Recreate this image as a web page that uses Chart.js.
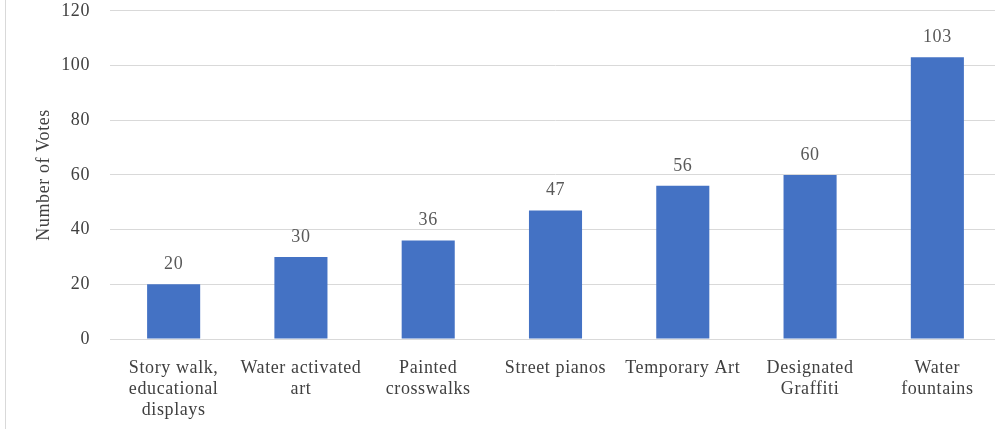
<!DOCTYPE html>
<html>
<head>
<meta charset="utf-8">
<script src="https://cdn.jsdelivr.net/npm/chart.js@4"></script>
<style>
  html, body { margin: 0; padding: 0; background: #fff; overflow: hidden; }
  #wrap { position: absolute; left: 0; top: -20px; width: 1001px; height: 449px; }
  #edge { position: absolute; left: 5px; top: 0; width: 1px; height: 429px; background: #d9d9d9; }
</style>
</head>
<body>
<div id="wrap">
  <canvas id="c"></canvas>
</div>
<div id="edge"></div>
<script>
const categories = [
  ["Story walk,", "educational", "displays"],
  ["Water activated", "art"],
  ["Painted", "crosswalks"],
  ["Street pianos"],
  ["Temporary Art"],
  ["Designated", "Graffiti"],
  ["Water", "fountains"]
];
const votes = [20, 30, 36, 47, 56, 60, 103];
const yTicks = [0, 20, 40, 60, 80, 100, 120];
const yTitle = "Number of Votes";

const FONT = "'Liberation Serif', 'Times New Roman', serif";

const spacing = {
  id: 'spacing',
  beforeDraw(chart) {
    if ('letterSpacing' in chart.ctx) chart.ctx.letterSpacing = '0.6px';
  }
};

const valueLabels = {
  id: 'valueLabels',
  afterDatasetsDraw(chart) {
    const ctx = chart.ctx;
    const meta = chart.getDatasetMeta(0);
    ctx.save();
    ctx.font = "18px " + FONT;
    ctx.fillStyle = "#595959";
    ctx.textAlign = "center";
    ctx.textBaseline = "middle";
    meta.data.forEach((bar, i) => {
      ctx.fillText(String(chart.data.datasets[0].data[i]), bar.x, bar.y - 20);
    });
    ctx.restore();
  }
};

new Chart(document.getElementById('c'), {
  type: 'bar',
  data: {
    labels: categories,
    datasets: [{
      data: votes,
      backgroundColor: '#4472C4',
      borderWidth: 0,
      categoryPercentage: 1.0,
      barPercentage: 0.417
    }]
  },
  options: {
    responsive: true,
    maintainAspectRatio: false,
    animation: false,
    events: [],
    layout: { padding: { left: 0, right: 0, top: 0, bottom: 0 } },
    plugins: {
      legend: { display: false },
      tooltip: { enabled: false }
    },
    scales: {
      x: {
        grid: { display: false, drawTicks: false },
        border: { display: true, color: '#d9d9d9', width: 1 },
        ticks: {
          color: '#404040',
          font: { family: FONT, size: 18, lineHeight: 1.17 },
          padding: 19,
          maxRotation: 0,
          autoSkip: false
        },
        afterFit(scale) { scale.height = 90; }
      },
      y: {
        min: 0,
        max: 120,
        afterBuildTicks(scale) { scale.ticks = yTicks.map(v => ({ value: v })); },
        grid: { color: '#d9d9d9', lineWidth: 1, drawTicks: false },
        border: { display: false },
        ticks: {
          color: '#404040',
          font: { family: FONT, size: 18 },
          padding: 20
        },
        title: {
          display: true,
          text: yTitle,
          color: '#404040',
          font: { family: FONT, size: 18 },
          padding: { top: 33, bottom: 0 }
        },
        afterFit(scale) { scale.width = 110; }
      }
    }
  },
  plugins: [spacing, valueLabels]
});
</script>
</body>
</html>
